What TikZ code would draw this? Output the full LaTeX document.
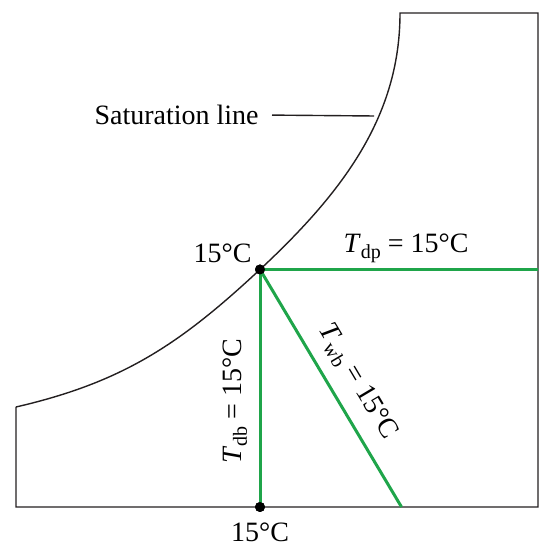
\documentclass[tikz,border=0pt]{standalone}
\usepackage{fontspec}
\setmainfont{Liberation Serif}
\usepackage{xcolor}
\definecolor{PsyGreen}{HTML}{1FA54A}
\definecolor{PsyLine}{HTML}{231F20}
\usepackage{tikz}
\usetikzlibrary{positioning}
\newcommand{\Tsub}[1]{\textit{T}\raisebox{-0.45ex}{\fontsize{10}{10}\selectfont #1}}

\begin{document}
\begin{tikzpicture}[
  x=0.5pt, y=0.5pt,
  outline/.style={draw=PsyLine,line width=0.7pt},
  isoline/.style={draw=PsyGreen,line width=1.5pt},
  dot/.style={circle,fill=black,inner sep=0pt,minimum size=5pt},
  lbl/.style={font=\fontsize{14}{16}\selectfont,inner sep=1pt}
]
\useasboundingbox (0,0) rectangle (552,556);
% chart outline with the saturation curve
\coordinate (ltop) at (16,149);
\coordinate (bl) at (16,49);
\coordinate (br) at (538,49);
\coordinate (tr) at (538,543);
\coordinate (ctop) at (400,543);
\node[dot] (dew) at (260,286.5) {};
\node[dot] (dry) at (260,49) {};
\coordinate (wbend) at (401.5,49);
\coordinate (dpend) at (538,286.5);
\coordinate (satpt) at (374,440);
\draw[outline] (ltop) -- (bl) -- (br) -- (tr) -- (ctop)
  to[out=-90,in=43,out looseness=0.9] (dew.center) to[out=223,in=13] (ltop);
% green lines
\draw[isoline] (dew.center) -- (dpend);
\draw[isoline] (dew.center) -- (dry.center);
\draw[isoline] (dew.center) -- node[lbl,sloped,above=5pt,pos=0.53] (wblbl) {\Tsub{wb} = 15°C} (wbend);
\node[dot] at (dew.center) {};
\node[dot] at (dry.center) {};
% labels
\node[lbl,anchor=east] (satlbl) at (261,441) {Saturation line};
\draw[outline,shorten <=5.5pt] (satlbl.east) -- (satpt);
\node[lbl,anchor=base east] (toplbl) at ([xshift=-3pt,yshift=3.5pt]dew.center) {15°C};
\node[lbl,below=4pt of dry] (botlbl) {15°C};
\node[lbl,anchor=base] (dplbl) at (406,303) {\Tsub{dp} = 15°C};
\node[lbl,rotate=90,anchor=base] (dblbl) at (241,155) {\Tsub{db} = 15°C};
\end{tikzpicture}
\end{document}
